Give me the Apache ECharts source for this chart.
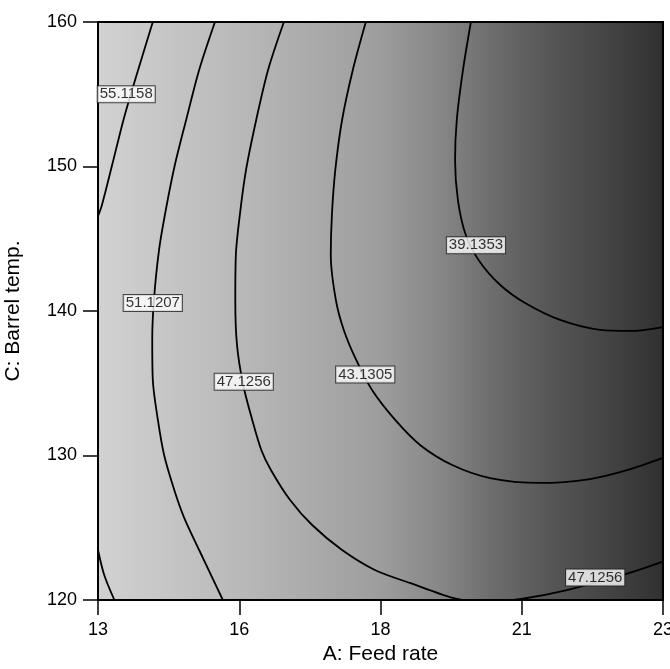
<!DOCTYPE html>
<html>
<head>
<meta charset="utf-8">
<title>Contour - Feed rate vs Barrel temp.</title>
<script src="https://cdn.jsdelivr.net/npm/echarts@6/dist/echarts.min.js"></script>
<style>
  body { margin: 0; padding: 0; background: #fff; }
  #myChart { width: 670px; height: 669px; }
</style>
</head>
<body>
<div id="myChart"></div>
<script>
  // axis ticks
  var xTickLabels = ['13', '16', '18', '21', '23'];
  var yTickLabels = ['120', '130', '140', '150', '160'];

  // contour lines, [A: Feed rate, C: Barrel temp.]
  var line55 = [[13.97, 160], [13.71, 156.68], [13.46, 153.36], [13.25, 150.1], [13.07, 147.34], [13.0, 146.57]];
  var line55b = [[13.0, 123.46], [13.11, 121.73], [13.29, 120]];
  var line51 = [[15.07, 160], [14.79, 156.68], [14.56, 153.22], [14.36, 150.1], [14.2, 146.99], [14.08, 144.22],
    [13.99, 140.76], [13.96, 137.99], [13.97, 135.22], [14.06, 132.46], [14.17, 130.03], [14.35, 127.61],
    [14.52, 125.74], [14.79, 123.46], [15.21, 120]];
  var line47 = [[16.29, 160], [16.01, 156.68], [15.8, 153.22], [15.62, 149.76], [15.51, 146.64], [15.44, 143.88],
    [15.43, 140.76], [15.46, 137.65], [15.57, 134.88], [15.73, 132.46], [15.89, 130.38], [16.06, 129.0],
    [16.4, 126.92], [16.79, 125.19], [17.32, 123.46], [17.9, 122.08], [18.52, 121.18], [19.35, 120.07],
    [19.92, 119.86], [20.49, 120.07], [21.3, 120.69], [22.29, 121.73], [23, 122.65]];
  var line43 = [[17.74, 160], [17.51, 156.68], [17.32, 153.22], [17.2, 149.76], [17.14, 146.64], [17.12, 143.88],
    [17.21, 140.76], [17.35, 138.69], [17.57, 136.61], [17.85, 134.53], [18.26, 132.46], [18.7, 130.73],
    [19.27, 129.34], [19.94, 128.44], [20.82, 128.1], [21.71, 128.37], [22.38, 129.0], [23, 129.83]];
  var line39 = [[19.6, 160], [19.46, 156.68], [19.35, 153.22], [19.32, 150.45], [19.37, 147.68], [19.51, 145.26],
    [19.76, 143.39], [20.12, 141.8], [20.56, 140.55], [21.18, 139.38], [21.89, 138.69], [22.42, 138.62], [23, 138.89]];

  // contour labels: [x, y, text]
  var contourLabels = [
    [13.5, 155.0, '55.1158'],
    [13.97, 140.55, '51.1207'],
    [15.58, 135.1, '47.1256'],
    [17.73, 135.6, '43.1305'],
    [19.69, 144.55, '39.1353'],
    [21.8, 121.55, '47.1256']
  ];

  var myChart = echarts.init(document.getElementById('myChart'));
  var font = 'Liberation Sans, Arial, sans-serif';

  function contour(data) {
    return {
      type: 'line',
      data: data,
      smooth: 0.3,
      showSymbol: false,
      silent: true,
      clip: true,
      lineStyle: { color: '#000', width: 1.8 },
      z: 3
    };
  }

  var option = {
    animation: false,
    backgroundColor: '#fff',
    grid: {
      left: 98,
      right: 7,
      top: 22,
      bottom: 69,
      containLabel: false,
      outerBoundsMode: 'none',
      show: true,
      borderColor: '#000',
      borderWidth: 2,
      backgroundColor: new echarts.graphic.LinearGradient(0, 0, 1, 0, [
        { offset: 0, color: '#d2d2d2' },
        { offset: 0.25, color: '#b9b9b9' },
        { offset: 0.5, color: '#9d9d9d' },
        { offset: 0.6, color: '#888888' },
        { offset: 0.7, color: '#6c6c6c' },
        { offset: 0.8, color: '#565656' },
        { offset: 0.9, color: '#444444' },
        { offset: 1, color: '#303030' }
      ])
    },
    xAxis: {
      type: 'value',
      min: 13,
      max: 23,
      interval: 2.5,
      name: 'A: Feed rate',
      nameLocation: 'middle',
      nameGap: 37,
      nameTextStyle: { color: '#000', fontSize: 21, fontFamily: font },
      axisLine: { show: true, lineStyle: { color: '#000', width: 2 } },
      axisTick: { show: true, inside: false, length: 15, lineStyle: { color: '#000', width: 1.5 } },
      axisLabel: {
        color: '#000', fontSize: 18, fontFamily: font, margin: 21,
        formatter: function (v) { return xTickLabels[Math.round((v - 13) / 2.5)]; }
      },
      splitLine: { show: false }
    },
    yAxis: {
      type: 'value',
      min: 120,
      max: 160,
      interval: 10,
      name: 'C: Barrel temp.',
      nameLocation: 'middle',
      nameGap: 74,
      nameTextStyle: { color: '#000', fontSize: 21, fontFamily: font },
      axisLine: { show: true, lineStyle: { color: '#000', width: 2 } },
      axisTick: { show: true, inside: false, length: 15, lineStyle: { color: '#000', width: 1.5 } },
      axisLabel: {
        color: '#000', fontSize: 18, fontFamily: font, margin: 21,
        formatter: function (v) { return yTickLabels[Math.round((v - 120) / 10)]; }
      },
      splitLine: { show: false }
    },
    series: [
      contour(line55),
      contour(line55b),
      contour(line51),
      contour(line47),
      contour(line43),
      contour(line39),
      {
        type: 'scatter',
        silent: true,
        symbol: 'rect',
        symbolSize: 1,
        itemStyle: { color: 'rgba(0,0,0,0)' },
        data: contourLabels.map(function (d) { return { value: [d[0], d[1]], name: d[2] }; }),
        label: {
          show: true,
          position: 'inside',
          formatter: '{b}',
          color: '#000',
          fontSize: 15,
          fontFamily: font,
          lineHeight: 15,
          backgroundColor: '#fff',
          borderColor: '#222',
          borderWidth: 1,
          padding: [1, 2, 0, 2]
        },
        z: 10
      }
    ]
  };
  myChart.setOption(option);
</script>
</body>
</html>
